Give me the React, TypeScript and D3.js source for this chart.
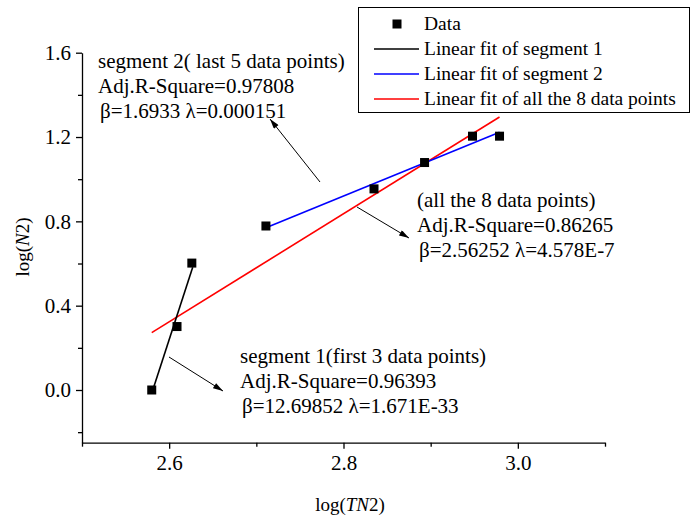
import { useEffect, useRef } from "react";
import * as d3 from "d3";

// log(TN2) and log(N2) of the 8 data points
const logT = [2.58, 2.609, 2.626, 2.711, 2.835, 2.893, 2.948, 2.979];
const logN = [0, 0.301, 0.602, 0.778, 0.954, 1.079, 1.204, 1.204];

// fitted lines, end points
const fitSeg1: [number, number][] = [[2.58, -0.015], [2.627, 0.582]];
const fitSeg2: [number, number][] = [[2.711, 0.77], [2.979, 1.223]];
const fitAll: [number, number][] = [[2.58, 0.272], [2.979, 1.295]];

const xMajor = [2.6, 2.8, 3.0];
const xMinor = [2.5, 2.7, 2.9, 3.1];
const yMajor = [0, 0.4, 0.8, 1.2, 1.6];
const yMinor = [-0.2, 0.2, 0.6, 1.0, 1.4];

const legendItems = [
  { label: "Data", kind: "square", color: "#000" },
  { label: "Linear fit of segment 1", kind: "line", color: "#000" },
  { label: "Linear fit of segment 2", kind: "line", color: "#0000ff" },
  { label: "Linear fit of all the 8 data points", kind: "line", color: "#ff0000" },
];

const notes = [
  {
    lines: ["segment 2( last 5 data points)", "Adj.R-Square=0.97808", "\u03b2=1.6933 \u03bb=0.000151"],
    x: 98, y: 68, arrow: [320, 182, 270, 119],
  },
  {
    lines: ["(all the 8 data points)", "Adj.R-Square=0.86265", "\u03b2=2.56252 \u03bb=4.578E-7"],
    x: 417, y: 207, arrow: [357, 207, 409, 238],
  },
  {
    lines: ["segment 1(first 3 data points)", "Adj.R-Square=0.96393", "\u03b2=12.69852 \u03bb=1.671E-33"],
    x: 240, y: 363, arrow: [169, 357, 223, 391],
  },
];

const W = 697;
const H = 517;
const FONT = "'Liberation Serif', 'Times New Roman', serif";

const App: React.FC = () => {
  const svgRef = useRef<SVGSVGElement>(null);

  useEffect(() => {
    const svg = d3.select(svgRef.current);
    svg.selectAll("*").remove();

    const x = d3.scaleLinear().domain([2.5, 3.1]).range([82, 605]);
    const y = d3.scaleLinear().domain([-0.25, 1.6]).range([442.7, 52.7]);

    svg
      .append("defs")
      .append("marker")
      .attr("id", "arrow")
      .attr("viewBox", "0 0 10 6")
      .attr("refX", 10)
      .attr("refY", 3)
      .attr("markerWidth", 11)
      .attr("markerHeight", 6)
      .attr("markerUnits", "userSpaceOnUse")
      .attr("orient", "auto")
      .append("path")
      .attr("d", "M0,0L10,3L0,6Z")
      .attr("fill", "#000");

    // axes
    const yAxis = svg.append("g").attr("transform", `translate(${x(2.5)},0)`);
    yAxis.call(
      d3.axisLeft(y).tickValues(yMajor).tickSize(6).tickSizeOuter(0).tickPadding(5)
        .tickFormat(d3.format(".1f")) as any
    );
    const yMin = svg.append("g").attr("transform", `translate(${x(2.5)},0)`);
    yMin.call(d3.axisLeft(y).tickValues(yMinor).tickSize(4).tickSizeOuter(0).tickFormat(() => "") as any);
    yMin.select(".domain").remove();

    const xAxis = svg.append("g").attr("transform", `translate(0,${y(-0.25)})`);
    xAxis.call(
      d3.axisBottom(x).tickValues(xMajor).tickSize(6).tickSizeOuter(0).tickPadding(6)
        .tickFormat(d3.format(".1f")) as any
    );
    const xMin = svg.append("g").attr("transform", `translate(0,${y(-0.25)})`);
    xMin.call(d3.axisBottom(x).tickValues(xMinor).tickSize(4).tickSizeOuter(0).tickFormat(() => "") as any);
    xMin.select(".domain").remove();

    svg.selectAll(".domain, .tick line").attr("stroke", "#000").attr("stroke-width", 1.3);
    svg
      .selectAll(".tick text")
      .attr("font-family", FONT)
      .attr("font-size", 21)
      .attr("fill", "#000");

    // axis titles
    const yt = svg
      .append("text")
      .attr("transform", "translate(29,247) rotate(-90)")
      .attr("text-anchor", "middle")
      .attr("font-family", FONT)
      .attr("font-size", 19);
    yt.append("tspan").text("log(");
    yt.append("tspan").attr("font-style", "italic").text("N");
    yt.append("tspan").text("2)");

    const xt = svg
      .append("text")
      .attr("x", 350)
      .attr("y", 511)
      .attr("text-anchor", "middle")
      .attr("font-family", FONT)
      .attr("font-size", 19);
    xt.append("tspan").text("log(");
    xt.append("tspan").attr("font-style", "italic").text("TN");
    xt.append("tspan").text("2)");

    // fit lines
    const fitLine = d3
      .line<[number, number]>()
      .x((d) => x(d[0]))
      .y((d) => y(d[1]));
    const fits: [[number, number][], string][] = [
      [fitAll, "#ff0000"],
      [fitSeg2, "#0000ff"],
      [fitSeg1, "#000"],
    ];
    svg
      .selectAll(".fit")
      .data(fits)
      .join("path")
      .attr("class", "fit")
      .attr("d", (d) => fitLine(d[0]))
      .attr("fill", "none")
      .attr("stroke", (d) => d[1])
      .attr("stroke-width", 1.6);

    // data points
    const s = 9;
    svg
      .selectAll(".pt")
      .data(logT)
      .join("rect")
      .attr("class", "pt")
      .attr("x", (d) => x(d) - s / 2)
      .attr("y", (d, i) => y(logN[i]) - s / 2)
      .attr("width", s)
      .attr("height", s)
      .attr("fill", "#000");

    // annotations with arrows
    notes.forEach((n) => {
      const t = svg
        .append("text")
        .attr("font-family", FONT)
        .attr("font-size", 21)
        .attr("fill", "#000");
      n.lines.forEach((ln, i) => {
        t.append("tspan")
          .attr("x", n.x + (i === 2 ? 2 : 0))
          .attr("y", n.y + i * 25)
          .text(ln);
      });
      svg
        .append("line")
        .attr("x1", n.arrow[0])
        .attr("y1", n.arrow[1])
        .attr("x2", n.arrow[2])
        .attr("y2", n.arrow[3])
        .attr("stroke", "#000")
        .attr("stroke-width", 1)
        .attr("marker-end", "url(#arrow)");
    });

    // legend
    const lg = svg.append("g");
    lg.append("rect")
      .attr("x", 358.5)
      .attr("y", 7.5)
      .attr("width", 331)
      .attr("height", 105)
      .attr("fill", "#fff")
      .attr("stroke", "#000")
      .attr("stroke-width", 1);
    legendItems.forEach((it, i) => {
      const cy = 24 + i * 25;
      if (it.kind === "square") {
        lg.append("rect")
          .attr("x", 397 - s / 2)
          .attr("y", cy - s / 2)
          .attr("width", s)
          .attr("height", s)
          .attr("fill", it.color);
      } else {
        lg.append("line")
          .attr("x1", 374)
          .attr("x2", 419)
          .attr("y1", cy)
          .attr("y2", cy)
          .attr("stroke", it.color)
          .attr("stroke-width", 1.6);
      }
      lg.append("text")
        .attr("x", 424)
        .attr("y", cy + 6)
        .attr("font-family", FONT)
        .attr("font-size", 19.5)
        .text(it.label);
    });
  }, []);

  return (
    <svg
      ref={svgRef}
      width={W}
      height={H}
      style={{ position: "absolute", left: 0, top: 0, background: "#fff" }}
    />
  );
};

export default App;
